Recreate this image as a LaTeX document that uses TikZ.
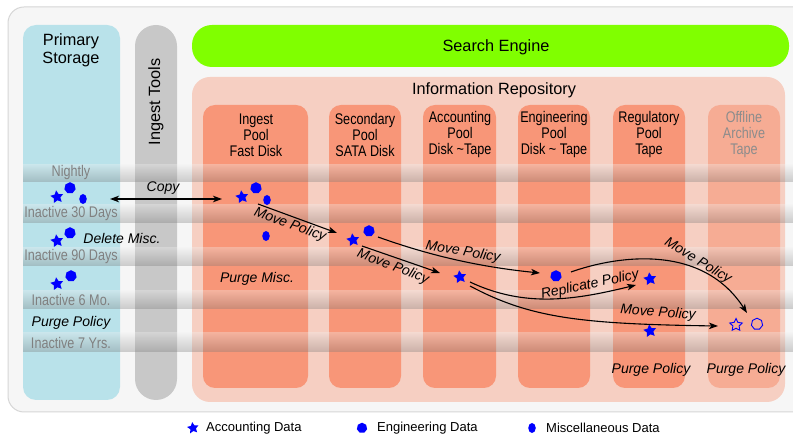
\documentclass[tikz,border=0pt]{standalone}
\usepackage{fontspec}
\setmainfont{Liberation Sans}
\newfontfamily\narrowfont{Liberation Sans}[FakeStretch=0.82]
\usetikzlibrary{shapes.geometric,arrows.meta}
\definecolor{outerbg}{RGB}{246,246,246}
\definecolor{outerln}{RGB}{214,214,214}
\definecolor{primblue}{RGB}{185,226,234}
\definecolor{toolgray}{RGB}{200,200,200}
\definecolor{searchgreen}{RGB}{128,255,0}
\definecolor{repo}{RGB}{246,207,194}
\definecolor{pool}{RGB}{248,150,120}
\definecolor{offpool}{RGB}{246,172,148}
\definecolor{bandgray}{RGB}{128,128,128}
\definecolor{offtext}{RGB}{140,140,140}
\definecolor{dblue}{RGB}{0,0,255}
\begin{document}
\begin{tikzpicture}[x=1pt,y=-1pt,
  acc/.style={star,star points=5,star point ratio=2.0,fill=dblue,inner sep=0pt,minimum size=13.5pt,rotate=8},
  accO/.style={star,star points=5,star point ratio=2.0,draw=dblue,line width=0.9pt,inner sep=0pt,minimum size=13pt},
  eng/.style={regular polygon,regular polygon sides=7,fill=dblue,inner sep=0pt,minimum size=11.5pt},
  engO/.style={regular polygon,regular polygon sides=7,draw=dblue,line width=0.9pt,inner sep=0pt,minimum size=11.5pt},
  misc/.style={ellipse,fill=dblue,inner sep=0pt,minimum width=7.5pt,minimum height=10pt},
  head/.style={font=\fontsize{16.3}{18}\selectfont,text=black,inner sep=0pt,align=center},
  pooltxt/.style={font=\narrowfont\fontsize{15.4}{16}\selectfont,align=center,inner sep=0pt},
  bandtxt/.style={font=\narrowfont\fontsize{15.4}{16}\selectfont,text=bandgray,inner sep=0pt},
  lab/.style={font=\itshape\fontsize{14}{16}\selectfont,inner sep=0pt},
  leg/.style={font=\fontsize{13}{15}\selectfont,anchor=west,inner sep=0pt},
  flow/.style={line width=1.1pt,-{Stealth[length=9pt,width=6.5pt,inset=2.5pt]}},
  band/.style={top color=black!8,bottom color=black!55,fill opacity=0.33,draw=none}
]
\useasboundingbox (0,0) rectangle (793,435);
\clip (0,0) rectangle (793,435);
\fill[white] (0,0) rectangle (793,435);
% outer panel
\draw[fill=outerbg,draw=outerln,line width=1pt,rounded corners=16pt] (8,7) rectangle (810,412);
% columns
\fill[primblue,rounded corners=13pt] (23,25) rectangle (120,400);
\fill[toolgray,rounded corners=21pt] (135,25) rectangle (177,400);
\fill[searchgreen,rounded corners=20pt] (192,25) rectangle (789,67);
\fill[repo,rounded corners=18pt] (192,77) rectangle (785,402);
\fill[pool,rounded corners=12pt] (203,105) rectangle (308,388);
\fill[pool,rounded corners=12pt] (329,105) rectangle (401,388);
\fill[pool,rounded corners=12pt] (423,105) rectangle (496,388);
\fill[pool,rounded corners=12pt] (518,105) rectangle (590,388);
\fill[pool,rounded corners=12pt] (613,105) rectangle (685,388);
\fill[offpool,rounded corners=12pt] (708,105) rectangle (780,388);
% headings
\node[head] (ps) at (71,50) {Primary\\Storage};
\node[head,rotate=90] (it) at (156,102) {Ingest Tools};
\node[head] (se) at (496,47) {Search Engine};
\node[head] (ir) at (494,90) {Information Repository};
\node[pooltxt] (p1) at (256,135) {Ingest\\Pool\\Fast Disk};
\node[pooltxt] (p2) at (365,135) {Secondary\\Pool\\SATA Disk};
\node[pooltxt] (p3) at (460,135) {Accounting\\Pool\\Disk \textasciitilde{}Tape};
\node[pooltxt] (p4) at (554,135) {Engineering\\Pool\\Disk \textasciitilde{} Tape};
\node[pooltxt] (p5) at (649,135) {Regulatory\\Pool\\Tape};
\node[pooltxt,text=offtext] (p6) at (744,135) {Offline\\Archive\\Tape};
% bands
\shade[band] (23,165) rectangle (800,182);
\shade[band] (23,205) rectangle (800,223);
\shade[band] (23,248) rectangle (800,266);
\shade[band] (23,291) rectangle (800,309);
\shade[band] (23,333) rectangle (800,352);
\node[bandtxt] (b1) at (71,173) {Nightly};
\node[bandtxt] (b2) at (71,214) {Inactive 30 Days};
\node[bandtxt] (b3) at (71,257) {Inactive 90 Days};
\node[bandtxt] (b4) at (71,300) {Inactive 6 Mo.};
\node[bandtxt] (b5) at (71,343) {Inactive 7 Yrs.};
% primary storage data
\node[acc] (pa1) at (57,197) {};
\node[eng] (pe1) at (70,188) {};
\node[misc] (pm1) at (83,199) {};
\node[acc] (pa2) at (57,241) {};
\node[eng] (pe2) at (70,233) {};
\node[acc] (pa3) at (57,284) {};
\node[eng] (pe3) at (71,276) {};
\node[lab] (dm) at (122,238) {Delete Misc.};
\node[lab] (pp1) at (71,323) {Purge Policy};
% ingest pool data
\node[acc] (ia) at (242,197) {};
\node[eng] (ie) at (256,188) {};
\node[misc] (im) at (267,200) {};
\node[misc] (im2) at (266,236) {};
\node[lab] (pm) at (257,279) {Purge Misc.};
% secondary
\node[acc] (sa) at (353,240) {};
\node[eng] (sen) at (369,231) {};
% accounting
\node[acc] (aa) at (460,277) {};
% engineering
\node[eng] (ee) at (556,276) {};
% regulatory
\node[acc] (ra1) at (650,279) {};
\node[acc] (ra2) at (650,331) {};
\node[lab] (pp2) at (651,370) {Purge Policy};
% offline
\node[accO] (oa) at (736,325) {};
\node[engO] (oe) at (757,324) {};
\node[lab] (pp3) at (746,370) {Purge Policy};
% connector end points
\coordinate (cpL) at (110,199);
\coordinate (cpR) at (222,199);
\coordinate (m1s) at (258,204);
\coordinate (m1e) at (337,233);
\coordinate (m2s) at (378,237);
\coordinate (m2e) at (540,273);
\coordinate (m3s) at (362,246);
\coordinate (m3e) at (440,273);
\coordinate (r1s) at (470,282);
\coordinate (r1e) at (636,285);
\coordinate (m4s) at (470,286);
\coordinate (m4e) at (718,326);
\coordinate (m5s) at (571,272);
\coordinate (m5e) at (747,313);
% connectors
\draw[line width=1.1pt,{Stealth[length=9pt,width=6.5pt,inset=2.5pt]}-{Stealth[length=9pt,width=6.5pt,inset=2.5pt]}] (cpL) -- (cpR);
\node[lab] (cpy) at (163,188) {Copy};
\draw[flow] (m1s) -- (m1e);
\node[lab,rotate=-20] (l1) at (290,225) {Move Policy};
\draw[flow] (m2s) .. controls (420,252) and (470,266) .. (m2e);
\node[lab,rotate=-10] (l2) at (463,252) {Move Policy};
\draw[flow] (m3s) -- (m3e);
\node[lab,rotate=-21] (l3) at (393,267) {Move Policy};
\draw[flow] (r1s) .. controls (525,308) and (575,300) .. (r1e);
\node[lab,rotate=12] (l4) at (590,285) {Replicate Policy};
\draw[flow] (m4s) .. controls (530,318) and (580,324) .. (m4e);
\node[lab,rotate=-4] (l5) at (658,313) {Move Policy};
\draw[flow] (m5s) .. controls (610,258) and (700,240) .. (m5e);
\node[lab,rotate=-31] (l6) at (698,261) {Move Policy};
% legend
\node[acc,minimum size=12pt] (la) at (193,428) {};
\node[leg] (lat) at (206,428) {Accounting Data};
\node[eng,minimum size=10.5pt] (le) at (362,428) {};
\node[leg] (let) at (377,428) {Engineering Data};
\node[misc] (lm) at (532,428) {};
\node[leg] (lmt) at (546,428) {Miscellaneous Data};
\end{tikzpicture}
\end{document}
